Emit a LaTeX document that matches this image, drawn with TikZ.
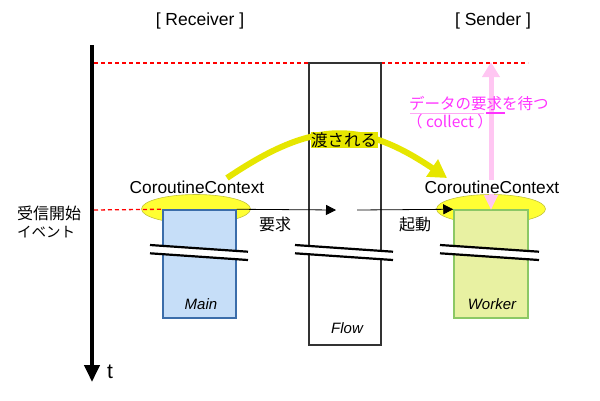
\documentclass[tikz,border=0pt]{standalone}
\usepackage{fontspec}
\setmainfont{Liberation Sans}
\newfontfamily\jp{Noto Sans CJK JP}
\usetikzlibrary{arrows.meta,shapes.geometric}
\definecolor{mainfill}{HTML}{C6DEF8}
\definecolor{mainline}{HTML}{3B6DAA}
\definecolor{workfill}{HTML}{E8F1A2}
\definecolor{workline}{HTML}{8CC865}
\definecolor{ctxfill}{HTML}{FFFF33}
\definecolor{ctxline}{HTML}{C4C43A}
\definecolor{passyel}{HTML}{E6E600}
\definecolor{waitpink}{HTML}{FFC6F2}
\definecolor{magtext}{HTML}{FF33FF}
\definecolor{flowline}{HTML}{333333}
\definecolor{dashred}{HTML}{FF0000}
\begin{document}
\begin{tikzpicture}[x=1pt,y=-1pt,
  ctx/.style={ellipse, draw=ctxline, fill=ctxfill, line width=0.6pt, minimum width=109pt, minimum height=29pt, inner sep=0pt},
  block/.style={rectangle, line width=1.5pt, inner sep=0pt},
  ctxlabel/.style={font=\fontsize{17.3}{18}\selectfont, fill=white, inner sep=0.5pt},
  jptext/.style={font=\jp\fontsize{16}{17}\selectfont, inner sep=0pt},
  pinktext/.style={font=\jp\fontsize{15.5}{16}\selectfont, text=magtext, inner sep=0pt},
  blocklabel/.style={font=\fontsize{15}{16}\selectfont\itshape, inner sep=0pt},
  reddash/.style={draw=dashred, line width=1.3pt, dash pattern=on 4pt off 3pt},
  msg/.style={draw=black, line width=0.8pt, -{Triangle[length=10pt,width=10pt]}},
  breakline/.style={draw=black, line width=2.2pt},
]
\useasboundingbox (0,0) rectangle (600,400);

% titles
\node[font=\fontsize{17.5}{18}\selectfont] (rtitle) at (200,21) {[ Receiver ]};
\node[font=\fontsize{17.5}{18}\selectfont] (stitle) at (493,21) {[ Sender ]};

% time axis
\coordinate (ttop) at (92,45);
\coordinate (tbot) at (92,382);
\draw[line width=4pt, -{Triangle[length=17pt,width=15pt]}] (ttop) -- (tbot);
\node[font=\fontsize{21}{22}\selectfont, inner sep=0pt] (tlabel) at (110,372) {t};

% top dashed line
\coordinate (topL) at (94,63);
\coordinate (topR) at (528,63);
\draw[reddash] (topL) -- (topR);

% context ellipses
\node[ctx] (ctxL) at (196,209) {};
\node[ctx] (ctxR) at (491,209) {};

% blocks
\node[block, draw=mainline, fill=mainfill, minimum width=73pt, minimum height=108pt] (main) at (199.5,264) {};
\node[block, draw=flowline, fill=white, minimum width=72pt, minimum height=282pt] (flow) at (345,204) {};
\node[block, draw=workline, fill=workfill, minimum width=74pt, minimum height=108pt] (worker) at (491,264) {};

\node[blocklabel] (mainlbl) at (201,304) {Main};
\node[blocklabel] (flowlbl) at (347,328) {Flow};
\node[blocklabel] (worklbl) at (492,304) {Worker};

% break marks
\foreach \a/\b in {150/248, 295/393, 440/539}{
  \fill[white] (\a,245) -- (\b,251.7) -- (\b,260) -- (\a,253.3) -- cycle;
  \draw[breakline] (\a,245) -- (\b,251.7);
  \draw[breakline] (\a,253.3) -- (\b,260);
}

% event
\coordinate (evL) at (94,210);
\draw[reddash] (evL) -- (main.north west);
\node[jptext, anchor=west] (ev1) at (17,213) {受信開始};
\node[jptext, anchor=west, font=\jp\fontsize{14.5}{15}\selectfont] (ev2) at (17,232) {イベント};

% request / start arrows
\coordinate (reqEnd) at (336,210);
\coordinate (startBeg) at (357,210);
\draw[msg] (main.north east) -- (reqEnd);
\draw[msg] (startBeg) -- (worker.north west);
\node[jptext] (reqlbl) at (275,224) {要求};
\node[jptext] (startlbl) at (415,224) {起動};

% wait arrow (pink)
\coordinate (waitBot) at (491,210);
\coordinate (waitTop) at (491,62);
\draw[waitpink, line width=5pt, {Triangle[length=15pt,width=13pt]}-{Triangle[length=15pt,width=17pt]}] (waitBot) -- (waitTop);

% context labels
\node[ctxlabel] (ctxlabL) at (197,187) {CoroutineContext};
\node[ctxlabel] (ctxlabR) at (492,187) {CoroutineContext};

% passed arc
\coordinate (passA) at (227,178);
\coordinate (passB) at (447,178);
\draw[passyel, line width=6pt, -{Triangle[length=18pt,width=20pt]}] (passA) .. controls (313,120) and (361,120) .. (passB);
\node[jptext, font=\jp\fontsize{16.5}{17}\selectfont, fill=passyel, inner sep=0.5pt] (passlbl) at (344,140) {渡される};

% wait text
\node[pinktext, anchor=west] (waitlbl) at (409,104) {データの要求を待つ};
\node[pinktext] (collectlbl) at (450,122) {（ collect ）};
\draw[waitpink!80!magtext, line width=0.6pt] (410,113) -- (484,113);
\draw[magtext, line width=1.6pt] (486,113) -- (505,113);

\end{tikzpicture}
\end{document}
